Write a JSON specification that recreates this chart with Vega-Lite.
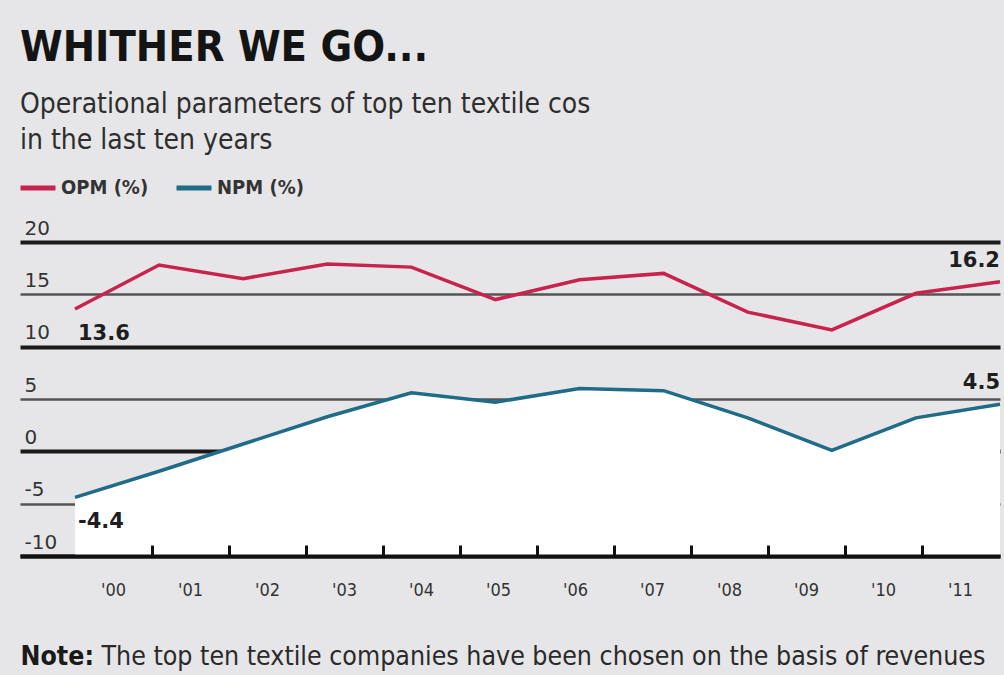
{
  "$schema": "https://vega.github.io/schema/vega-lite/v6.json",
  "width": 980,
  "height": 314,
  "autosize": {"type": "none"},
  "padding": {"left": 20, "top": 242, "right": 4, "bottom": 119},
  "background": "#e6e6e8",
  "config": {"view": {"stroke": null}},
  "title": {
    "text": "WHITHER WE GO...",
    "subtitle": ["Operational parameters of top ten textile cos", "in the last ten years"],
    "anchor": "start",
    "frame": "group",
    "font": "DejaVu Sans Condensed",
    "fontSize": 43,
    "fontWeight": "bold",
    "color": "#141414",
    "subtitleFont": "DejaVu Sans Condensed",
    "subtitleFontSize": 28,
    "subtitleColor": "#2e2e2e",
    "subtitleLineHeight": 36,
    "subtitlePadding": 21,
    "offset": 13
  },
  "data": {
    "values": [
      {"year": "2000", "i": 0, "series": "OPM (%)", "value": 13.6},
      {"year": "2001", "i": 1, "series": "OPM (%)", "value": 17.8},
      {"year": "2002", "i": 2, "series": "OPM (%)", "value": 16.5},
      {"year": "2003", "i": 3, "series": "OPM (%)", "value": 17.9},
      {"year": "2004", "i": 4, "series": "OPM (%)", "value": 17.6},
      {"year": "2005", "i": 5, "series": "OPM (%)", "value": 14.5},
      {"year": "2006", "i": 6, "series": "OPM (%)", "value": 16.4},
      {"year": "2007", "i": 7, "series": "OPM (%)", "value": 17.0},
      {"year": "2008", "i": 8, "series": "OPM (%)", "value": 13.3},
      {"year": "2009", "i": 9, "series": "OPM (%)", "value": 11.6},
      {"year": "2010", "i": 10, "series": "OPM (%)", "value": 15.1},
      {"year": "2011", "i": 11, "series": "OPM (%)", "value": 16.2},
      {"year": "2000", "i": 0, "series": "NPM (%)", "value": -4.4},
      {"year": "2001", "i": 1, "series": "NPM (%)", "value": -1.9},
      {"year": "2002", "i": 2, "series": "NPM (%)", "value": 0.7},
      {"year": "2003", "i": 3, "series": "NPM (%)", "value": 3.3},
      {"year": "2004", "i": 4, "series": "NPM (%)", "value": 5.6},
      {"year": "2005", "i": 5, "series": "NPM (%)", "value": 4.7},
      {"year": "2006", "i": 6, "series": "NPM (%)", "value": 6.0},
      {"year": "2007", "i": 7, "series": "NPM (%)", "value": 5.8},
      {"year": "2008", "i": 8, "series": "NPM (%)", "value": 3.2},
      {"year": "2009", "i": 9, "series": "NPM (%)", "value": 0.1},
      {"year": "2010", "i": 10, "series": "NPM (%)", "value": 3.2},
      {"year": "2011", "i": 11, "series": "NPM (%)", "value": 4.5}
    ]
  },
  "layer": [
    {
      "transform": [{"filter": "datum.series === 'NPM (%)'"}],
      "mark": {"type": "area", "color": "#ffffff", "opacity": 1},
      "encoding": {
        "x": {
          "field": "i",
          "type": "quantitative",
          "scale": {"domain": [-0.654, 11], "nice": false, "zero": false},
          "axis": {
            "values": [0.916, 1.831, 2.747, 3.663, 4.579, 5.494, 6.41, 7.326, 8.241, 9.157, 10.073, 10.988],
            "labelExpr": "\"'\" + ((round(datum.value / 0.9157) - 1) < 10 ? '0' : '') + (round(datum.value / 0.9157) - 1)",
            "labelOffset": -39,
            "labelFont": "DejaVu Sans Condensed",
            "labelFontSize": 18,
            "labelColor": "#333333",
            "labelPadding": 45,
            "labelBaseline": "middle",
            "tickSize": -11,
            "tickWidth": 3,
            "tickColor": "#111111",
            "tickOpacity": {"condition": {"test": "datum.value > 10.9", "value": 0}, "value": 1},
            "domainWidth": 4,
            "domainColor": "#111111",
            "grid": false,
            "zindex": 1,
            "title": "The top ten textile companies have been chosen on the basis of revenues",
            "titleFont": "DejaVu Sans Condensed",
            "titleFontSize": 26.5,
            "titleFontWeight": "normal",
            "titleColor": "#2a2a2a",
            "titleX": 81,
            "titleY": 108,
            "titleAlign": "left",
            "titleBaseline": "alphabetic",
            "titleAnchor": "start"
          }
        },
        "y": {
          "field": "value",
          "type": "quantitative",
          "scale": {"domain": [-10, 20], "nice": false, "zero": false},
          "axis": {
            "values": [-10, -5, 0, 5, 10, 15, 20],
            "labelExpr": "toString(datum.value)",
            "domain": false,
            "ticks": false,
            "tickSize": 0,
            "labelAlign": "left",
            "labelBaseline": "alphabetic",
            "labelPadding": -4,
            "labelOffset": -8,
            "labelFont": "DejaVu Sans",
            "labelFontSize": 20,
            "labelColor": "#333333",
            "grid": true,
            "gridWidth": {"condition": {"test": "datum.value % 10 === 0", "value": 4}, "value": 2.5},
            "gridColor": {"condition": {"test": "datum.value % 10 === 0", "value": "#1a1a1a"}, "value": "#555555"},
            "zindex": 0,
            "title": "Note:",
            "titleFont": "DejaVu Sans Condensed",
            "titleFontSize": 26.5,
            "titleFontWeight": "bold",
            "titleColor": "#1a1a1a",
            "titleAngle": 0,
            "titleX": 0,
            "titleY": 422,
            "titleAlign": "left",
            "titleBaseline": "alphabetic"
          }
        },
        "y2": {"datum": -10}
      }
    },
    {
      "mark": {"type": "line", "strokeWidth": 3.5},
      "encoding": {
        "x": {"field": "i", "type": "quantitative"},
        "y": {"field": "value", "type": "quantitative"},
        "color": {
          "field": "series",
          "type": "nominal",
          "scale": {"domain": ["OPM (%)", "NPM (%)"], "range": ["#c8234e", "#1f6b88"]},
          "legend": {
            "title": null,
            "orient": "none",
            "legendX": -2,
            "legendY": -74,
            "direction": "horizontal",
            "symbolType": "stroke",
            "symbolSize": 1225,
            "symbolStrokeWidth": 5,
            "labelFont": "DejaVu Sans Condensed",
            "labelFontSize": 20,
            "labelFontWeight": "bold",
            "labelColor": "#333333",
            "labelOffset": 3,
            "columnPadding": 17
          }
        }
      }
    },
    {
      "transform": [{"filter": "datum.i === 0"}],
      "mark": {"type": "text", "align": "left", "dx": 3, "dy": 25, "font": "DejaVu Sans", "fontSize": 21, "fontWeight": "bold", "color": "#1e1e1e"},
      "encoding": {
        "x": {"field": "i", "type": "quantitative"},
        "y": {"field": "value", "type": "quantitative"},
        "text": {"field": "value", "type": "nominal"}
      }
    },
    {
      "transform": [{"filter": "datum.i === 11"}],
      "mark": {"type": "text", "align": "right", "dx": 0, "dy": -21, "font": "DejaVu Sans", "fontSize": 21, "fontWeight": "bold", "color": "#1e1e1e"},
      "encoding": {
        "x": {"field": "i", "type": "quantitative"},
        "y": {"field": "value", "type": "quantitative"},
        "text": {"field": "value", "type": "nominal"}
      }
    }
  ]
}
